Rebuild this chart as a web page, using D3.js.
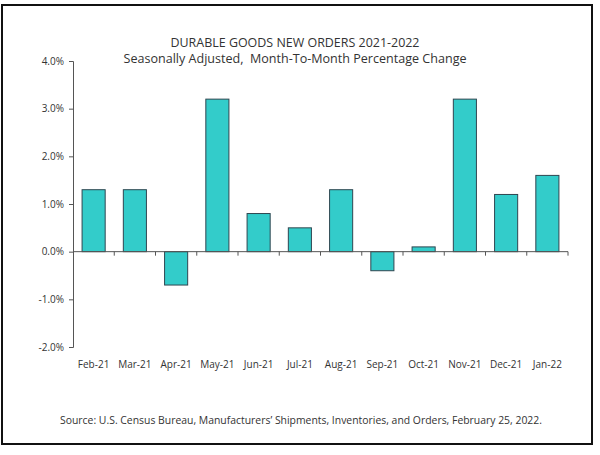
<!DOCTYPE html>
<html>
<head>
<meta charset="utf-8">
<script src="https://cdn.jsdelivr.net/npm/d3@7"></script>
<style>
  body { margin: 0; background: #fff; }
  text { font-family: "Open Sans", "Liberation Sans", sans-serif; fill: #333; }
</style>
</head>
<body>
<div id="chart"></div>
<script>
var w = 600,
    h = 455;

// data
var months = ["Feb-21", "Mar-21", "Apr-21", "May-21", "Jun-21", "Jul-21",
              "Aug-21", "Sep-21", "Oct-21", "Nov-21", "Dec-21", "Jan-22"];
var changes = [1.3, 1.3, -0.7, 3.2, 0.8, 0.5, 1.3, -0.4, 0.1, 3.2, 1.2, 1.6];
var yTicks = [-2, -1, 0, 1, 2, 3, 4];

var svg = d3.select("#chart").append("svg")
  .attr("width", w)
  .attr("height", h);

// outer frame
svg.append("rect")
  .attr("x", 2).attr("y", 5)
  .attr("width", 590).attr("height", 439)
  .attr("fill", "none")
  .attr("stroke", "#111")
  .attr("stroke-width", 2);

var x = d3.scaleBand()
  .domain(months)
  .range([73, 568])
  .paddingInner(0.44)
  .paddingOuter(0.22);

var y = d3.scaleLinear()
  .domain([-2, 4])
  .range([347, 61]);

// bars
svg.selectAll(".bar")
  .data(changes)
  .enter().append("rect")
  .attr("class", "bar")
  .attr("x", function(d, i) { return x(months[i]); })
  .attr("width", x.bandwidth())
  .attr("y", function(d) { return y(Math.max(0, d)); })
  .attr("height", function(d) { return Math.abs(y(d) - y(0)); })
  .attr("fill", "#33CCCA")
  .attr("stroke", "#2f4650")
  .attr("stroke-width", 1);

// y axis
var yAxis = svg.append("g")
  .attr("transform", "translate(73,0)")
  .call(d3.axisLeft(y)
    .tickValues(yTicks)
    .tickSize(4)
    .tickFormat(function(d) { return d.toFixed(1) + "%"; }));
yAxis.select(".domain").attr("stroke", "#555");
yAxis.selectAll(".tick line").attr("stroke", "#555");
yAxis.selectAll(".tick text")
  .attr("x", -9)
  .style("font-size", "10px")
  .attr("fill", "#333");

// x axis line at zero with ticks on band edges
var bounds = months.map(function(m, i) { return 73 + i * (568 - 73) / months.length; }).concat([568]);
svg.append("line")
  .attr("x1", 73).attr("x2", 568)
  .attr("y1", y(0)).attr("y2", y(0))
  .attr("stroke", "#555");
svg.selectAll(".xtick")
  .data(bounds.slice(1))
  .enter().append("line")
  .attr("x1", function(d) { return d; })
  .attr("x2", function(d) { return d; })
  .attr("y1", y(0)).attr("y2", y(0) + 4)
  .attr("stroke", "#555");

// month labels along the bottom
svg.selectAll(".xlab")
  .data(months)
  .enter().append("text")
  .attr("x", function(d) { return x(d) + x.bandwidth() / 2; })
  .attr("y", 368)
  .attr("text-anchor", "middle")
  .style("font-size", "10px")
  .text(function(d) { return d; });

// titles
svg.append("text")
  .attr("x", 295).attr("y", 47)
  .attr("text-anchor", "middle")
  .attr("textLength", 249).attr("lengthAdjust", "spacingAndGlyphs")
  .style("font-size", "12.5px")
  .text("DURABLE GOODS NEW ORDERS 2021-2022");

svg.append("text")
  .attr("x", 295).attr("y", 63)
  .attr("text-anchor", "middle")
  .attr("textLength", 343).attr("lengthAdjust", "spacingAndGlyphs")
  .style("font-size", "12.5px")
  .style("white-space", "pre")
  .text("Seasonally Adjusted,  Month-To-Month Percentage Change");

svg.append("text")
  .attr("x", 301).attr("y", 424)
  .attr("text-anchor", "middle")
  .attr("textLength", 482).attr("lengthAdjust", "spacingAndGlyphs")
  .style("font-size", "10.5px")
  .text("Source: U.S. Census Bureau, Manufacturers\u2019 Shipments, Inventories, and Orders, February 25, 2022.");
</script>
</body>
</html>
